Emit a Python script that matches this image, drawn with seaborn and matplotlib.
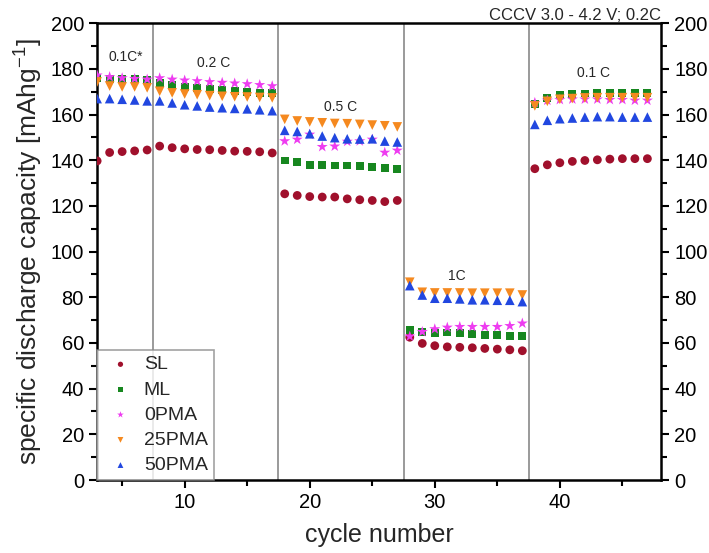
import numpy as np
import pandas as pd
import seaborn as sns
import matplotlib
matplotlib.use("Agg")
import matplotlib.pyplot as plt
from matplotlib.ticker import MultipleLocator

# Rate-capability test: discharge capacity per cycle for five cell types
cycles = list(range(3, 48))
rate_labels = ["0.1C*", "0.2 C", "0.5 C", "1C", "0.1 C"]
rate_label_pos = [(5.3, 185.0), (12.3, 182.5), (22.5, 163.5), (31.8, 89.5), (42.7, 178.0)]
rate_boundaries = [7.5, 17.5, 27.5, 37.5]

sl = [139.7, 143.4, 143.8, 144.1, 144.5,
      146.2, 145.5, 145.0, 144.7, 144.6, 144.3, 144.0, 143.9, 143.7, 143.2,
      125.3, 124.6, 124.1, 123.9, 123.9, 123.1, 122.7, 122.4, 121.9, 122.4,
      62.5, 59.8, 58.8, 58.3, 58.1, 57.9, 57.6, 57.3, 57.0, 56.6,
      136.3, 138.0, 138.9, 139.5, 139.9, 140.2, 140.5, 140.7, 140.7, 140.7]
ml = [176.0, 175.7, 175.5, 175.4, 175.3,
      174.0, 173.1, 172.1, 171.7, 171.1, 170.6, 170.2, 169.9, 169.6, 169.3,
      139.9, 139.2, 138.0, 137.9, 137.7, 137.7, 137.3, 137.0, 136.6, 136.0,
      65.7, 64.9, 64.3, 64.6, 64.3, 63.8, 63.5, 63.5, 62.9, 63.2,
      164.8, 167.3, 168.4, 168.9, 169.2, 169.5, 169.6, 169.6, 169.6, 169.5]
pma0 = [177.2, 176.5, 176.0, 175.7, 175.4,
        176.0, 175.4, 175.0, 174.7, 174.3, 174.0, 173.7, 173.4, 173.0, 172.5,
        148.4, 149.1, 151.3, 145.9, 146.1, 148.2, 148.4, 149.1, 143.4, 144.3,
        62.9, 64.9, 66.1, 66.8, 67.1, 67.1, 67.1, 67.1, 67.5, 68.6,
        165.2, 166.2, 166.5, 166.7, 166.7, 166.7, 166.5, 166.5, 166.2, 166.2]
pma25 = [174.3, 172.5, 172.1, 172.1, 171.7,
         170.2, 169.5, 169.0, 168.7, 168.3, 168.0, 167.8, 167.7, 167.5, 167.3,
         157.9, 157.2, 156.8, 156.4, 156.1, 156.0, 155.7, 155.4, 155.1, 154.6,
         86.6, 82.2, 81.9, 81.9, 81.9, 81.8, 81.8, 81.8, 81.8, 81.0,
         163.8, 165.8, 166.7, 167.0, 167.3, 167.4, 167.4, 167.4, 167.4, 167.4]
pma50 = [167.0, 167.0, 166.7, 166.4, 166.0,
         166.0, 165.1, 164.3, 163.8, 163.3, 163.0, 162.7, 162.5, 162.1, 161.7,
         153.1, 152.6, 151.6, 150.6, 149.9, 149.4, 149.3, 149.4, 148.4, 148.0,
         85.1, 81.0, 79.6, 79.6, 79.3, 78.9, 78.9, 78.7, 78.7, 78.1,
         155.7, 157.5, 158.2, 158.5, 158.9, 159.1, 159.1, 158.9, 158.9, 158.9]

samples = ["SL", "ML", "0PMA", "25PMA", "50PMA"]
series = [sl, ml, pma0, pma25, pma50]
colors = {"SL": "#a0102c", "ML": "#17871f", "0PMA": "#ee3cf0",
          "25PMA": "#f5891f", "50PMA": "#2147e0"}
markers = {"SL": "o", "ML": "s", "0PMA": "*", "25PMA": "v", "50PMA": "^"}
sizes = {"SL": 40, "ML": 32, "0PMA": 70, "25PMA": 48, "50PMA": 48}

df = pd.concat([pd.DataFrame({"cycle": cycles, "capacity": vals, "sample": name})
                for name, vals in zip(samples, series)], ignore_index=True)

sns.set_style("ticks")
plt.rcParams["font.family"] = ["Liberation Sans", "DejaVu Sans"]
plt.rcParams["mathtext.fontset"] = "custom"
plt.rcParams["mathtext.rm"] = "Liberation Sans"
plt.rcParams["mathtext.it"] = "Liberation Sans:italic"

fig = plt.figure(figsize=(7.09, 5.53), dpi=100)
ax = fig.add_axes([0.137, 0.132, 0.7955, 0.826])

for x in rate_boundaries:
    ax.axvline(x, color="#9a9a9a", lw=1.4, zorder=1)

for name in samples:
    sub = df[df["sample"] == name]
    sns.scatterplot(data=sub, x="cycle", y="capacity", ax=ax, color=colors[name],
                    marker=markers[name], s=sizes[name], edgecolor="none",
                    label=name, zorder=3)

for text, (x, y) in zip(rate_labels, rate_label_pos):
    ax.text(x, y, text, ha="center", va="center", fontsize=10)

ax.set_xlim(3, 48.1)
ax.set_ylim(0, 200)
ax.xaxis.set_major_locator(MultipleLocator(10))
ax.xaxis.set_minor_locator(MultipleLocator(5))
ax.yaxis.set_major_locator(MultipleLocator(20))
ax.yaxis.set_minor_locator(MultipleLocator(10))
ax.tick_params(which="both", direction="out", top=False, right=True,
               labelright=True, width=1.5, colors="black", labelsize=14.5)
ax.tick_params(which="major", length=6)
ax.tick_params(which="minor", length=4)
for sp in ax.spines.values():
    sp.set_linewidth(1.8)
    sp.set_color("black")

ax.set_xlabel("cycle number", fontsize=18, labelpad=8)
ax.set_ylabel("specific discharge capacity [mAhg$^{-1}$]", fontsize=19, labelpad=4)

fig.text(661 / 709, 1 - 15 / 553, "CCCV 3.0 - 4.2 V; 0.2C", ha="right",
         va="center", fontsize=12)

leg = ax.legend(loc="lower left", borderaxespad=0, frameon=True, fancybox=False,
                edgecolor="#8a8a8a", fontsize=14, markerscale=0.6,
                handletextpad=0.3, labelspacing=0.39, borderpad=0.3,
                handlelength=1.8)
leg.get_frame().set_linewidth(1.2)

fig.savefig("out.png", dpi=100)
